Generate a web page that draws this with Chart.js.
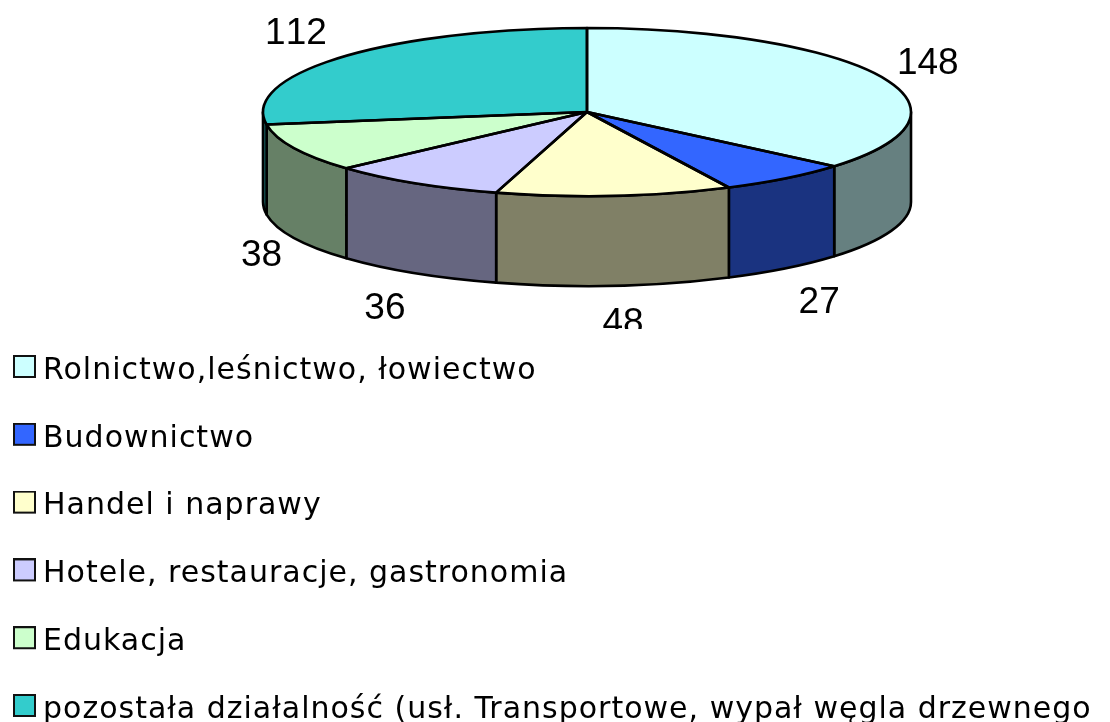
<!DOCTYPE html>
<html lang="pl">
<head>
<meta charset="utf-8">
<style>
html,body{margin:0;padding:0;background:#fff;width:1110px;height:722px;overflow:hidden}
#wrap{position:relative;width:1110px;height:722px}
</style>
<script src="https://cdn.jsdelivr.net/npm/chart.js@4"></script>
</head>
<body>
<div id="wrap"><canvas id="c"></canvas></div>
<script>
const categories = [
  "Rolnictwo,leśnictwo, łowiectwo",
  "Budownictwo",
  "Handel i naprawy",
  "Hotele, restauracje, gastronomia",
  "Edukacja",
  "pozostała działalność (usł. Transportowe, wypał węgla drzewnego"
];
const values = [148, 27, 48, 36, 38, 112];
const topColors = ["#CCFFFF", "#3366FF", "#FFFFCC", "#CCCCFF", "#CCFFCC", "#33CCCC"];
const wallColors = ["#668080", "#1A3380", "#808066", "#666680", "#668066", "#1A6666"];
const labelNudgeX = [-4, -1, 4, 0, 18, -3];
const labelNudgeY = [3, 4, 0, 3, 2, 1];

const discCenterY = 112, discRadiusY = 84, discDepth = 90;
const labelRadiusX = 380, labelRadiusY = 122, labelClipBottom = 329;
const edge = "#000", edgeWidth = 2.6;

function swatch(color) {
  const s = document.createElement("canvas");
  s.width = 23; s.height = 32;
  const g = s.getContext("2d");
  g.fillStyle = color; g.fillRect(1, 1, 21, 21);
  g.strokeStyle = "#111"; g.lineWidth = 2; g.strokeRect(1, 1, 21, 21);
  return s;
}

function arcs(chart) { return chart.getDatasetMeta(0).data; }

const tiltedPie = {
  id: "tiltedPie",
  afterLayout(chart) {
    const l = chart.legend, pad = l.options.labels.padding;
    l.left = 21 - pad; l.right = 1110;
    l.top = 356 - pad; l.bottom = 900;
  },
  beforeDraw(chart) {
    chart.ctx.letterSpacing = "1px";
  },
  beforeDatasetsDraw(chart) {
    const ctx = chart.ctx;
    ctx.letterSpacing = "0px";
    arcs(chart).forEach((a, i) => {
      const s = Math.max(a.startAngle, 0), e = Math.min(a.endAngle, Math.PI);
      if (e <= s) return;
      const cx = a.x, rx = a.outerRadius;
      ctx.save();
      ctx.beginPath();
      ctx.ellipse(cx, discCenterY, rx, discRadiusY, 0, s, e);
      ctx.ellipse(cx, discCenterY + discDepth, rx, discRadiusY, 0, e, s, true);
      ctx.closePath();
      ctx.fillStyle = wallColors[i];
      ctx.fill();
      ctx.strokeStyle = edge; ctx.lineWidth = edgeWidth; ctx.lineJoin = "round";
      ctx.stroke();
      ctx.restore();
    });
  },
  beforeDatasetDraw(chart) {
    const a = arcs(chart)[0], ctx = chart.ctx;
    ctx.save();
    ctx.translate(a.x, discCenterY);
    ctx.scale(1, discRadiusY / a.outerRadius);
    ctx.translate(-a.x, -a.y);
  },
  afterDatasetDraw(chart) {
    chart.ctx.restore();
  },
  afterDatasetsDraw(chart) {
    const ctx = chart.ctx;
    ctx.save();
    ctx.strokeStyle = edge; ctx.lineWidth = edgeWidth; ctx.lineJoin = "round";
    arcs(chart).forEach(a => {
      ctx.beginPath();
      ctx.moveTo(a.x, discCenterY);
      ctx.ellipse(a.x, discCenterY, a.outerRadius, discRadiusY, 0, a.startAngle, a.endAngle);
      ctx.closePath();
      ctx.stroke();
    });
    ctx.beginPath();
    ctx.rect(0, 0, chart.width, labelClipBottom);
    ctx.clip();
    ctx.fillStyle = "#000";
    ctx.font = '37px "Liberation Sans", Arial, sans-serif';
    ctx.fontKerning = "none";
    ctx.textAlign = "center";
    ctx.textBaseline = "middle";
    arcs(chart).forEach((a, i) => {
      const mid = (a.startAngle + a.endAngle) / 2;
      const sin = Math.sin(mid), cos = Math.cos(mid);
      const x = a.x + labelRadiusX * cos + labelNudgeX[i];
      const y = discCenterY + labelRadiusY * sin + (sin > 0 ? discDepth : 0) + labelNudgeY[i];
      ctx.fillText(String(values[i]), x, y);
    });
    ctx.restore();
  }
};

new Chart(document.getElementById("c"), {
  type: "pie",
  data: {
    labels: categories,
    datasets: [{ data: values, backgroundColor: topColors, borderWidth: 0, clip: false, hoverOffset: 0 }]
  },
  plugins: [tiltedPie],
  options: {
    responsive: true,
    maintainAspectRatio: false,
    animation: false,
    events: [],
    layout: { padding: { left: 263, right: 199, top: 0, bottom: 74 } },
    plugins: {
      tooltip: { enabled: false },
      title: { display: false },
      legend: {
        display: true,
        position: "chartArea",
        align: "start",
        labels: {
          color: "#000",
          font: { family: '"DejaVu Sans", Verdana, sans-serif', size: 30 },
          usePointStyle: true,
          boxWidth: 7,
          padding: 37.8,
          generateLabels: chart => categories.map((t, i) => ({
            text: t, fillStyle: topColors[i], strokeStyle: "#000", lineWidth: 2,
            pointStyle: swatch(topColors[i]), hidden: false, index: i
          }))
        }
      }
    }
  }
});
</script>
</body>
</html>
